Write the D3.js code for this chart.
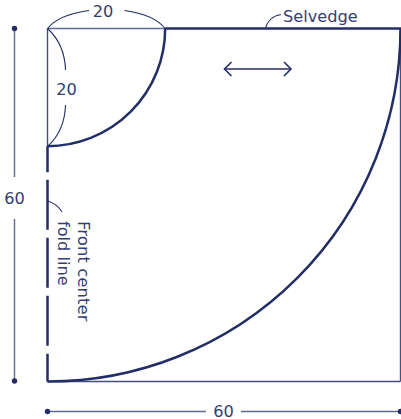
<!DOCTYPE html>
<html><head><meta charset="utf-8">
<script src="https://cdn.jsdelivr.net/npm/d3@7"></script>
<style>html,body{margin:0;background:#fff}svg{display:block}text{font-family:"DejaVu Sans";font-size:16.2px;fill:#343e72}</style>
</head><body><svg width="401" height="419"></svg>
<script>
const patternSize = 60;
const neckRadius = 20;
const dimensionLabels = ["20", "20", "60", "60"];
const noteLabels = ["Selvedge", "Front center", "fold line"];

const ink = "#232e66";
const thinInk = "#46507f";
const svg = d3.select("svg");
const x = d3.scaleLinear().domain([0, patternSize]).range([47.5, 400.5]);
const y = d3.scaleLinear().domain([0, patternSize]).range([28.5, 381.5]);
const r = v => x(v) - x(0);
const line = (x1, y1, x2, y2, w, c, o = 1) => svg.append("line").attr("x1", x1).attr("y1", y1).attr("x2", x2).attr("y2", y2)
  .attr("stroke", c).attr("stroke-width", w).attr("stroke-opacity", o);
const curve = (d, w = 1.1) => svg.append("path").attr("d", d).attr("fill", "none").attr("stroke", ink).attr("stroke-width", w);
const label = (s, px, py, anchor = "middle") => svg.append("text").attr("x", px).attr("y", py).attr("text-anchor", anchor).text(s);

// Thin outline
line(x(0), y(0), x(neckRadius), y(0), 1.4, thinInk, .85);
line(x(0), y(0), x(0), y(neckRadius), 1.4, thinInk);
line(x(patternSize), y(0), x(patternSize), y(patternSize), 1.4, thinInk);
line(x(0), y(patternSize), x(patternSize), y(patternSize), 1.5, thinInk);

// Cut lines
const arc = d3.arc().startAngle(Math.PI / 2).endAngle(Math.PI).innerRadius(d => d).outerRadius(d => d);
[neckRadius, patternSize].forEach(v => {
  svg.append("path").attr("d", arc(r(v))).attr("transform", `translate(${x(0)},${y(0)})`)
    .attr("fill", "none").attr("stroke", ink).attr("stroke-width", 2.5);
});
line(x(neckRadius), y(0), x(patternSize) + 1, y(0), 2.5, ink);
line(x(0), y(neckRadius), x(0), y(patternSize), 2.5, ink)
  .attr("stroke-dasharray", "26 7.5 50 8 50 8 50 8 50");

// Dimension lines
line(14.5, y(0), 14.5, 177, 1.4, thinInk, .85);
line(14.5, 219, 14.5, y(patternSize) - .5, 1.4, thinInk, .85);
line(x(0), 411.5, 206, 411.5, 1.4, thinInk, .85);
line(241, 411.5, x(patternSize), 411.5, 1.4, thinInk, .85);
[[14.5, y(0)], [14.5, y(patternSize) - .5], [x(0), 411.5], [x(patternSize), 411.5]].forEach(p =>
  svg.append("circle").attr("cx", p[0]).attr("cy", p[1]).attr("r", 2.7).attr("fill", ink));

// Curved leaders
curve("M47.5,28.5 C56,18 71,13 89,10.5");
curve("M124.5,10.5 C142,13 157,18 165,28.5");
curve("M47.5,28.5 C58,38 65,53 65.5,70");
curve("M65.5,105 C65,122 58,137 47.5,146.5");
curve("M48,201 C54,203 59,207 62,212");
curve("M265.5,28 C267,22 272,16 281,14.5");

// Grain arrow
curve("M224.5,69 H291", 1.6);
curve("M231.5,62 L224.5,69 L231.5,76", 1.6);
curve("M284,62 L291,69 L284,76", 1.6);

// Text
label(dimensionLabels[0], 103, 17);
label(dimensionLabels[1], 66.5, 95);
label(dimensionLabels[2], 14.5, 204);
label(dimensionLabels[3], 223.5, 416.5);
label(noteLabels[0], 283, 22, "start");
svg.append("text").attr("transform", "translate(78,221) rotate(90)").style("font-size", "16.6px").text(noteLabels[1]);
svg.append("text").attr("transform", "translate(58,221) rotate(90)").text(noteLabels[2]);
</script></body></html>
